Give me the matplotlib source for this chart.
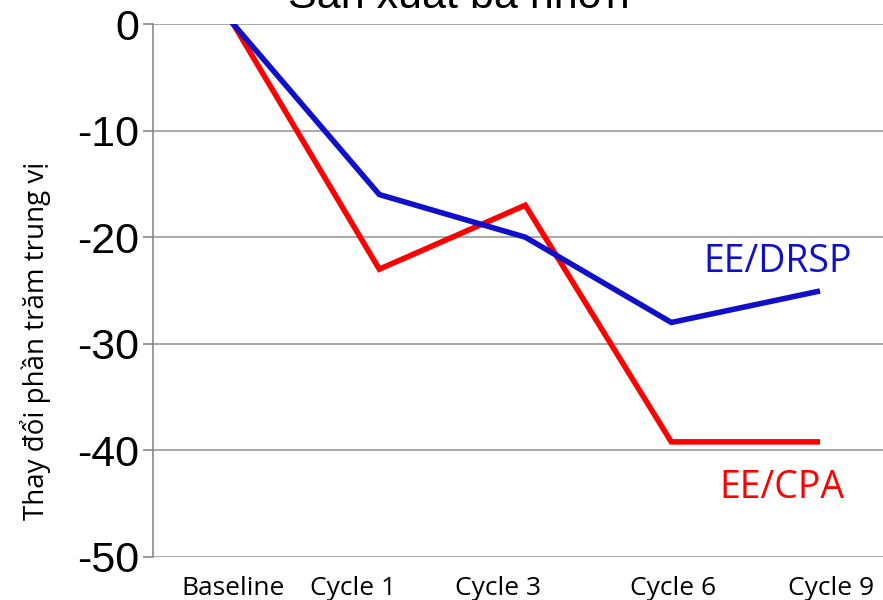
import matplotlib.pyplot as plt
from matplotlib.transforms import ScaledTranslation

categories = ["Baseline", "Cycle 1", "Cycle 3", "Cycle 6", "Cycle 9"]
ee_drsp = [0, -16, -20, -28, -25.1]
ee_cpa = [0, -23, -17, -39.2, -39.2]
y_ticks = [0, -10, -20, -30, -40, -50]

fig = plt.figure(figsize=(8.83, 6), dpi=100)
ax = fig.add_axes([0.1733, 0.0717, 0.8267, 0.8883])

x = range(len(categories))
ax.plot(x, ee_cpa, color="#ff0000", lw=4, solid_joinstyle="miter")
ax.plot(x, ee_drsp, color="#1010c8", lw=4, solid_joinstyle="miter")

ax.set_xlim(-0.55, 4.45)
ax.set_ylim(-50, 0)
ax.set_yticks(y_ticks)
ax.set_yticklabels([str(v) for v in y_ticks], fontsize=31, family="Liberation Sans")
ax.set_xticks(list(x))
ax.set_xticklabels(categories, fontsize=19, family="Open Sans")
ax.tick_params(axis="x", length=0, pad=14)
ax.tick_params(axis="y", length=7, color="#888888", width=1.2, pad=3)

# the labels in the original are not centred on their categories
shifts = [0, -26, -27, 2, 14]
for lab, dx in zip(ax.get_xticklabels(), shifts):
    lab.set_transform(lab.get_transform() + ScaledTranslation(dx / 100, 0, fig.dpi_scale_trans))

ax.grid(axis="y", color="#999999", lw=1.2)
ax.set_axisbelow(True)
for side in ["top", "right", "bottom"]:
    ax.spines[side].set_visible(False)
ax.spines["left"].set_color("#888888")
ax.spines["left"].set_linewidth(1.2)

ax.set_ylabel("Thay đổi phần trăm trung vị", fontsize=20,
              family=["Open Sans", "DejaVu Sans"])
ax.yaxis.set_label_coords(-0.14, 0.405)

ax.text(3.73, -22.3, "EE/DRSP", color="#1010c8", fontsize=27,
        family="Open Sans", ha="center", va="center")
ax.text(3.76, -43.5, "EE/CPA", color="#ff0000", fontsize=27,
        family="Open Sans", ha="center", va="center")

fig.text(0.52, 0.987, "Sản xuất bã nhờn", fontsize=31, ha="center",
         va="baseline", family=["Liberation Sans", "DejaVu Sans"])

fig.savefig("out.png", dpi=100)
